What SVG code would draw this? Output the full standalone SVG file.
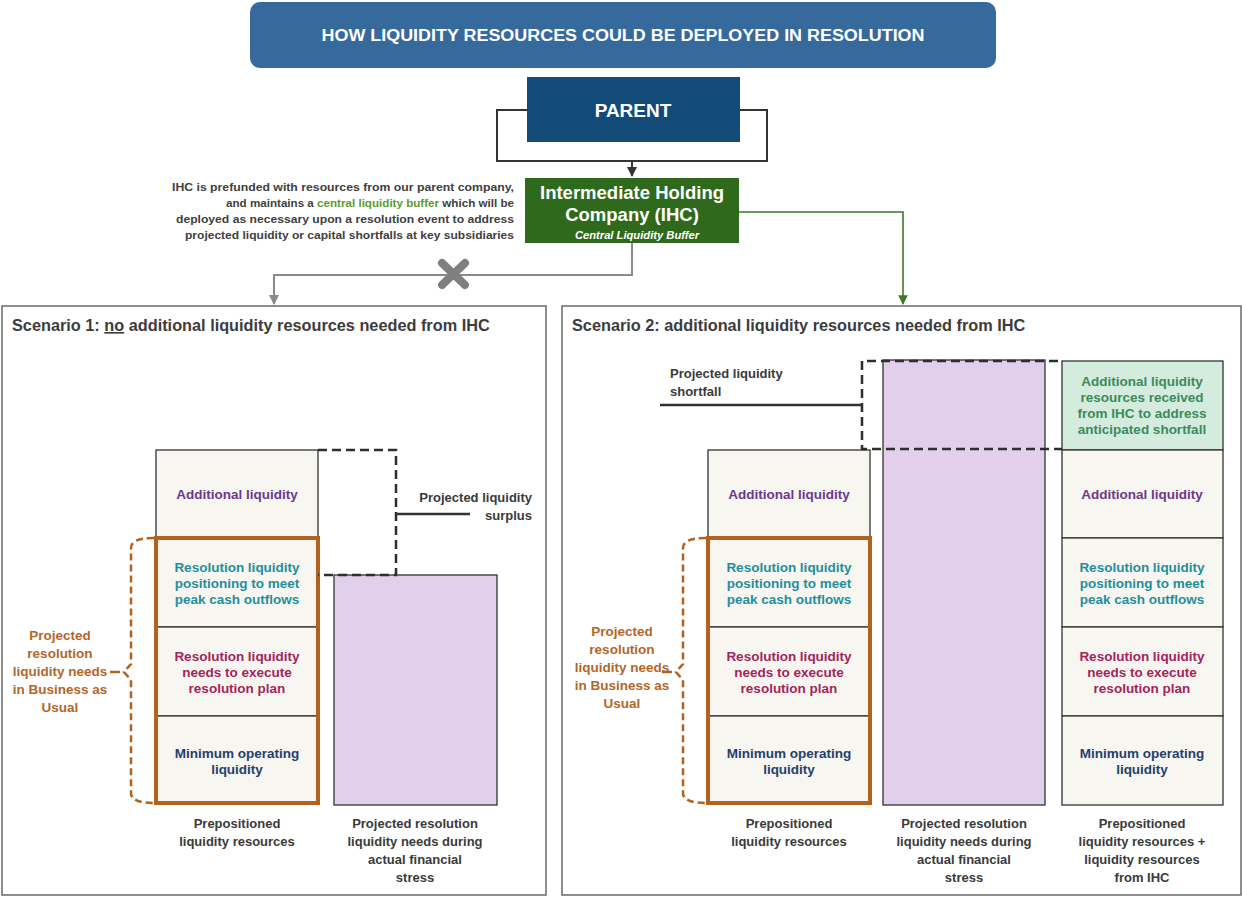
<svg xmlns="http://www.w3.org/2000/svg" width="1242" height="897" viewBox="0 0 1242 897">
  <defs>
    <marker id="arrGray" viewBox="0 0 10 10" refX="9" refY="5" markerWidth="5" markerHeight="5" orient="auto-start-reverse">
      <path d="M0,0 L10,5 L0,10 z" fill="#8a8a8a"/>
    </marker>
    <marker id="arrDark" viewBox="0 0 10 10" refX="9" refY="5" markerWidth="5" markerHeight="5" orient="auto-start-reverse">
      <path d="M0,0 L10,5 L0,10 z" fill="#333"/>
    </marker>
    <marker id="arrGreen" viewBox="0 0 10 10" refX="9" refY="5" markerWidth="6" markerHeight="6" orient="auto-start-reverse">
      <path d="M0,0 L10,5 L0,10 z" fill="#3b7a22"/>
    </marker>
  </defs>
  <style>
    text { font-family: "Liberation Sans", Arial, sans-serif; font-weight: bold; }
    .hdr { fill: #ffffff; font-size: 16px; }
    .box-name { fill: #ffffff; font-size: 18.5px; text-anchor: middle; }
    .scen { fill: #3c3c3c; font-size: 16.3px; }
    .para { fill: #404040; font-size: 11px; text-anchor: end; }
    .cell { fill: #f8f6f1; stroke: #333; stroke-width: 1.3; }
    .lbl { font-size: 13.5px; text-anchor: middle; }
    .add { fill: #6a3a8c; }
    .pos { fill: #1f8f9c; }
    .need { fill: #a3245c; }
    .min { fill: #1f3f6e; }
    .grn { fill: #3d8a5c; }
    .cap { fill: #3a3a3a; font-size: 13px; text-anchor: middle; }
    .bau { fill: #b3662a; font-size: 13.5px; text-anchor: middle; }
    .stress { fill: #e1cfeb; stroke: #333; stroke-width: 1.3; }
    .dash { fill: none; stroke: #2e2e2e; stroke-width: 2.5; stroke-dasharray: 9 5; }
    .orange { fill: none; stroke: #b5611e; stroke-width: 4; }
    .brace { fill: none; stroke: #b5611e; stroke-width: 2.5; stroke-dasharray: 7 4; }
    .frame { fill: #ffffff; stroke: #6a6a6a; stroke-width: 1.5; }
    .lead { stroke: #333; stroke-width: 2.5; fill: none; }
  </style>

  <rect width="1242" height="897" fill="#ffffff"/>

  <!-- Title banner -->
  <g id="title">
    <rect x="250" y="2" width="746" height="66" rx="10" fill="#376a9c"/>
    <text class="hdr" x="623" y="41" text-anchor="middle" textLength="603" lengthAdjust="spacingAndGlyphs">HOW LIQUIDITY RESOURCES COULD BE DEPLOYED IN RESOLUTION</text>
  </g>

  <!-- Scenario frames -->
  <g id="scenario1-frame">
    <rect class="frame" x="2" y="306" width="544" height="589"/>
    <text class="scen" x="12" y="331">Scenario 1: <tspan text-decoration="underline">no</tspan> additional liquidity resources needed from IHC</text>
  </g>
  <g id="scenario2-frame">
    <rect class="frame" x="562" y="306" width="679" height="589"/>
    <text class="scen" x="572" y="331">Scenario 2: additional liquidity resources needed from IHC</text>
  </g>

  <!-- Connectors -->
  <g id="connectors">
    <path d="M527,110 H497 V161 H767 V110 H740" fill="none" stroke="#333" stroke-width="2"/>
    <path d="M632,161 V176" fill="none" stroke="#333" stroke-width="2" marker-end="url(#arrDark)"/>
    <path d="M632,243 V275 H274 V304" fill="none" stroke="#8a8a8a" stroke-width="2" marker-end="url(#arrGray)"/>
    <path d="M739,212 H903 V304" fill="none" stroke="#3b7a22" stroke-width="1.6" marker-end="url(#arrGreen)"/>
    <g id="blocked" stroke="#7f7f7f" stroke-width="8" stroke-linecap="round">
      <line x1="442" y1="263" x2="465" y2="285"/>
      <line x1="465" y1="263" x2="442" y2="285"/>
    </g>
  </g>

  <!-- Parent -->
  <g id="parent">
    <rect x="527" y="77" width="213" height="65" fill="#124a78"/>
    <text class="box-name" x="633" y="117" style="font-size:19px">PARENT</text>
  </g>

  <!-- Intermediate holding company -->
  <g id="ihc">
    <rect x="525" y="178" width="214" height="65" fill="#2f6a1c"/>
    <text class="box-name" x="632" y="199">Intermediate Holding</text>
    <text class="box-name" x="632" y="221">Company (IHC)</text>
    <text x="637" y="239" text-anchor="middle" fill="#ffffff" font-size="11.2" font-style="italic">Central Liquidity Buffer</text>
  </g>

  <!-- IHC description -->
  <g id="ihc-note">
    <text class="para" x="514" y="191" textLength="342" lengthAdjust="spacingAndGlyphs">IHC is prefunded with resources from our parent company,</text>
    <text class="para" x="514" y="207" textLength="288" lengthAdjust="spacingAndGlyphs">and maintains a <tspan fill="#5c9a2e">central liquidity buffer</tspan> which will be</text>
    <text class="para" x="514" y="223" textLength="338" lengthAdjust="spacingAndGlyphs">deployed as necessary upon a resolution event to address</text>
    <text class="para" x="514" y="239" textLength="329" lengthAdjust="spacingAndGlyphs">projected liquidity or capital shortfalls at key subsidiaries</text>
  </g>

  <!-- Scenario 1: prepositioned stack -->
  <g id="s1-prepositioned">
    <rect class="cell" x="156" y="450" width="162" height="88"/>
    <text class="lbl add" x="237" y="499">Additional liquidity</text>
    <rect class="cell" x="156" y="538" width="162" height="89"/>
    <text class="lbl pos"><tspan x="237" y="572">Resolution liquidity</tspan><tspan x="237" y="588">positioning to meet</tspan><tspan x="237" y="604">peak cash outflows</tspan></text>
    <rect class="cell" x="156" y="627" width="162" height="89"/>
    <text class="lbl need"><tspan x="237" y="661">Resolution liquidity</tspan><tspan x="237" y="677">needs to execute</tspan><tspan x="237" y="693">resolution plan</tspan></text>
    <rect class="cell" x="156" y="716" width="162" height="87"/>
    <text class="lbl min"><tspan x="237" y="758">Minimum operating</tspan><tspan x="237" y="774">liquidity</tspan></text>
    <rect class="orange" x="156" y="538" width="162" height="265"/>
    <text class="cap"><tspan x="237" y="828">Prepositioned</tspan><tspan x="237" y="846">liquidity resources</tspan></text>
  </g>

  <g id="s1-stress">
    <rect class="stress" x="334" y="575" width="163" height="230"/>
    <text class="cap"><tspan x="415" y="828">Projected resolution</tspan><tspan x="415" y="846">liquidity needs during</tspan><tspan x="415" y="864">actual financial</tspan><tspan x="415" y="882">stress</tspan></text>
  </g>

  <g id="s1-surplus">
    <path class="dash" d="M318,450 H396 V575 H318"/>
    <line class="lead" x1="396" y1="514" x2="470" y2="514"/>
    <text class="cap" text-anchor="end"><tspan x="532" y="502" text-anchor="end">Projected liquidity</tspan><tspan x="532" y="520" text-anchor="end">surplus</tspan></text>
  </g>

  <g id="s1-bau">
    <path class="brace" d="M154,538 Q131,538 131,548 V664 L124,672 L131,680 V793 Q131,803 154,803"/>
    <line x1="110" y1="672" x2="120" y2="672" stroke="#b5611e" stroke-width="2.5"/>
    <text class="bau"><tspan x="60" y="640">Projected</tspan><tspan x="60" y="658">resolution</tspan><tspan x="60" y="676">liquidity needs</tspan><tspan x="60" y="694">in Business as</tspan><tspan x="60" y="712">Usual</tspan></text>
  </g>

  <!-- Scenario 2: prepositioned stack -->
  <g id="s2-prepositioned">
    <rect class="cell" x="708" y="450" width="162" height="88"/>
    <text class="lbl add" x="789" y="499">Additional liquidity</text>
    <rect class="cell" x="708" y="538" width="162" height="89"/>
    <text class="lbl pos"><tspan x="789" y="572">Resolution liquidity</tspan><tspan x="789" y="588">positioning to meet</tspan><tspan x="789" y="604">peak cash outflows</tspan></text>
    <rect class="cell" x="708" y="627" width="162" height="89"/>
    <text class="lbl need"><tspan x="789" y="661">Resolution liquidity</tspan><tspan x="789" y="677">needs to execute</tspan><tspan x="789" y="693">resolution plan</tspan></text>
    <rect class="cell" x="708" y="716" width="162" height="87"/>
    <text class="lbl min"><tspan x="789" y="758">Minimum operating</tspan><tspan x="789" y="774">liquidity</tspan></text>
    <rect class="orange" x="708" y="538" width="162" height="265"/>
    <text class="cap"><tspan x="789" y="828">Prepositioned</tspan><tspan x="789" y="846">liquidity resources</tspan></text>
  </g>

  <g id="s2-stress">
    <rect class="stress" x="883" y="360" width="162" height="445"/>
    <text class="cap"><tspan x="964" y="828">Projected resolution</tspan><tspan x="964" y="846">liquidity needs during</tspan><tspan x="964" y="864">actual financial</tspan><tspan x="964" y="882">stress</tspan></text>
  </g>

  <g id="s2-with-ihc">
    <rect x="1062" y="361" width="161" height="89" fill="#d3ecdd" stroke="#333" stroke-width="1.3"/>
    <text class="lbl grn"><tspan x="1142" y="386">Additional liquidity</tspan><tspan x="1142" y="402">resources received</tspan><tspan x="1142" y="418">from IHC to address</tspan><tspan x="1142" y="434">anticipated shortfall</tspan></text>
    <rect class="cell" x="1062" y="450" width="161" height="88"/>
    <text class="lbl add" x="1142" y="499">Additional liquidity</text>
    <rect class="cell" x="1062" y="538" width="161" height="89"/>
    <text class="lbl pos"><tspan x="1142" y="572">Resolution liquidity</tspan><tspan x="1142" y="588">positioning to meet</tspan><tspan x="1142" y="604">peak cash outflows</tspan></text>
    <rect class="cell" x="1062" y="627" width="161" height="89"/>
    <text class="lbl need"><tspan x="1142" y="661">Resolution liquidity</tspan><tspan x="1142" y="677">needs to execute</tspan><tspan x="1142" y="693">resolution plan</tspan></text>
    <rect class="cell" x="1062" y="716" width="161" height="89"/>
    <text class="lbl min"><tspan x="1142" y="758">Minimum operating</tspan><tspan x="1142" y="774">liquidity</tspan></text>
    <text class="cap"><tspan x="1142" y="828">Prepositioned</tspan><tspan x="1142" y="846">liquidity resources +</tspan><tspan x="1142" y="864">liquidity resources</tspan><tspan x="1142" y="882">from IHC</tspan></text>
  </g>

  <g id="s2-shortfall">
    <path class="dash" d="M1058,361 H862 V449 H1062"/>
    <line class="lead" x1="660" y1="405" x2="862" y2="405"/>
    <text class="cap" text-anchor="start"><tspan x="670" y="378" text-anchor="start">Projected liquidity</tspan><tspan x="670" y="396" text-anchor="start">shortfall</tspan></text>
  </g>

  <g id="s2-bau">
    <path class="brace" d="M706,538 Q683,538 683,548 V664 L676,672 L683,680 V793 Q683,803 706,803"/>
    <line x1="662" y1="672" x2="672" y2="672" stroke="#b5611e" stroke-width="2.5"/>
    <text class="bau"><tspan x="622" y="636">Projected</tspan><tspan x="622" y="654">resolution</tspan><tspan x="622" y="672">liquidity needs</tspan><tspan x="622" y="690">in Business as</tspan><tspan x="622" y="708">Usual</tspan></text>
  </g>
</svg>
